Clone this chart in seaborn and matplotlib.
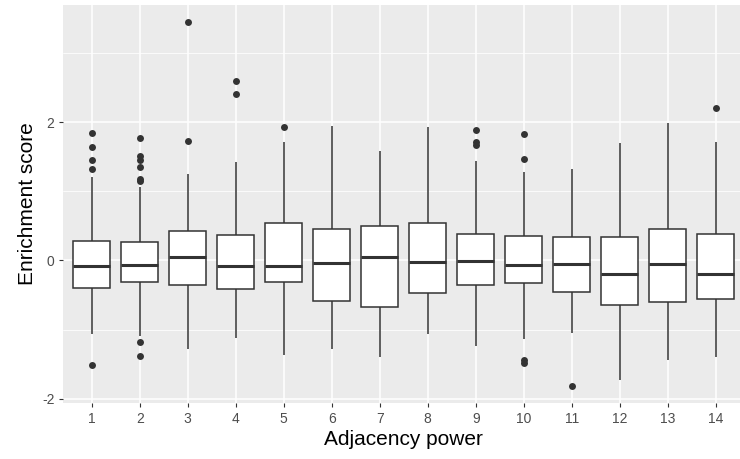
import numpy as np
import pandas as pd
import matplotlib
matplotlib.use("Agg")
import matplotlib.pyplot as plt
import seaborn as sns

# ---- data (box statistics per adjacency power) ----
powers = [str(i) for i in range(1, 15)]
q1 = [-0.405, -0.308, -0.352, -0.419, -0.318, -0.592, -0.669, -0.472, -0.352, -0.328, -0.458, -0.650, -0.607, -0.564]
median = [-0.082, -0.063, 0.043, -0.082, -0.077, -0.039, 0.043, -0.029, -0.005, -0.063, -0.048, -0.202, -0.053, -0.202]
q3 = [0.279, 0.264, 0.424, 0.371, 0.539, 0.458, 0.496, 0.539, 0.380, 0.357, 0.342, 0.342, 0.453, 0.385]
whisker_low = [-1.059, -1.098, -1.276, -1.122, -1.363, -1.281, -1.397, -1.069, -1.238, -1.142, -1.050, -1.724, -1.435, -1.402]
whisker_high = [1.204, 1.060, 1.253, 1.421, 1.715, 1.941, 1.580, 1.927, 1.435, 1.281, 1.320, 1.696, 1.985, 1.710]
outliers_low = [
    [-1.513], [-1.185, -1.377], [], [], [], [], [], [], [], [-1.445, -1.484], [-1.811], [], [], [],
]
outliers_high = [
    [1.32, 1.445, 1.633, 1.840], [1.152, 1.17, 1.349, 1.445, 1.503, 1.767], [1.72, 3.44], [2.41, 2.60],
    [1.936], [], [], [], [1.672, 1.710, 1.879], [1.464, 1.821], [], [], [], [2.197],
]

# Build sample sets whose quartiles / whiskers / outliers equal the values above
rows = []
for p, a, m, b, wl, wh, ol, oh in zip(powers, q1, median, q3, whisker_low, whisker_high,
                                      outliers_low, outliers_high):
    low = sorted(ol) + [wl]
    high = [wh] + sorted(oh)
    k = max(len(low), len(high)) + 1
    vals = (low + [a] * (k - len(low)) + [a] + [a] * (k - 1) + [m] + [m] * (k - 1)
            + [b] + [b] * (k - len(high)) + high)
    for v in vals:
        rows.append({"power": p, "score": v})
df = pd.DataFrame(rows)

# ---- plotting ----
sns.set_theme(style="darkgrid")
plt.rcParams["font.family"] = ["Liberation Sans", "DejaVu Sans"]

W, H = 740, 459
fig = plt.figure(figsize=(W / 100, H / 100), dpi=100)
left_px, right_px, top_px, bottom_px = 62.9, 744.5, 4.5, 403.3
ax = fig.add_axes([left_px / W, 1 - bottom_px / H, (right_px - left_px) / W, (bottom_px - top_px) / H])
ax.set_facecolor("#EBEBEB")

edge = "#333333"
sns.boxplot(data=df, x="power", y="score", order=powers, ax=ax, color="white",
            linecolor=edge, linewidth=1.1, width=0.76, showcaps=False,
            medianprops=dict(linewidth=2.2, color=edge),
            flierprops=dict(marker="o", markersize=5, markerfacecolor=edge,
                            markeredgecolor=edge, markeredgewidth=0),
            boxprops=dict(facecolor="white", edgecolor=edge),
            zorder=3)

ax.set_xlim(-0.6, 13.6)
ax.set_ylim(-2.066, 3.70)
ax.set_yticks([-2, 0, 2])
ax.set_yticklabels(["-2", "0", "2"])
ax.set_yticks([-1, 1, 3], minor=True)
ax.grid(which="major", color="white", linewidth=1.1)
ax.grid(which="minor", axis="y", color="white", linewidth=0.55)
ax.set_axisbelow(True)
for s in ax.spines.values():
    s.set_visible(False)

ax.tick_params(axis="both", which="major", length=3, width=0.8, color=edge,
               labelsize=10, labelcolor="#4D4D4D", bottom=True, left=True)
ax.tick_params(axis="x", which="major", pad=3.5)
ax.tick_params(axis="y", which="major", pad=3)
ax.tick_params(axis="y", which="minor", length=0)
ax.set_xlabel("Adjacency power", fontsize=15, color="black", labelpad=3)
ax.set_ylabel("Enrichment score", fontsize=15, color="black", labelpad=3.6)

fig.savefig("out.png", dpi=100)
